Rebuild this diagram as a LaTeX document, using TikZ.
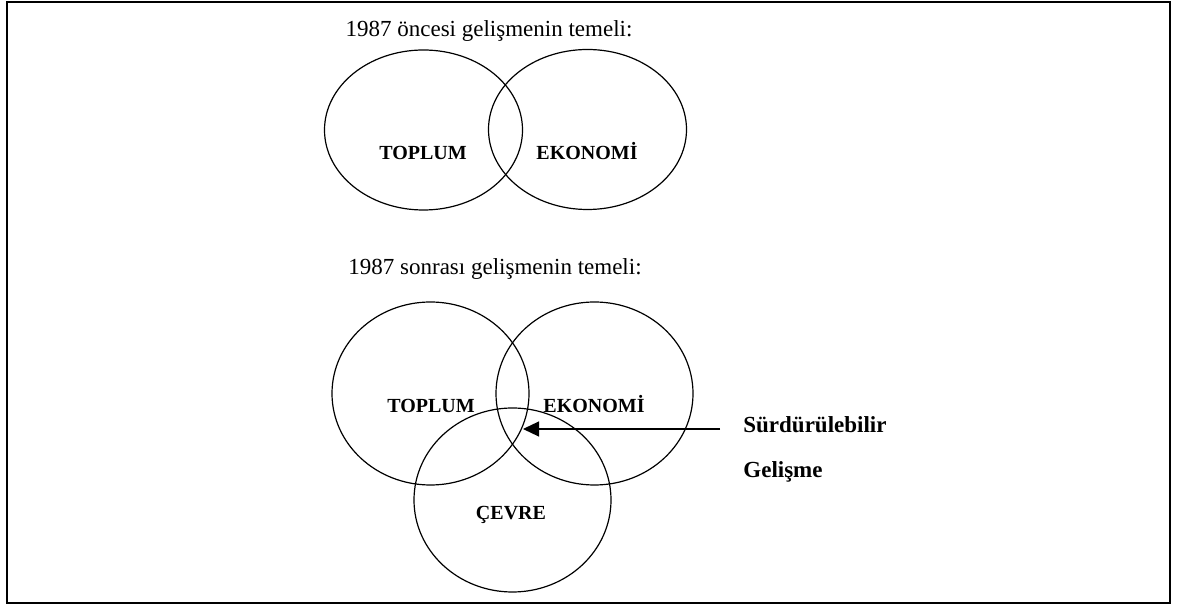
\documentclass[tikz,border=0pt]{standalone}
\usepackage{fontspec}
\setmainfont{Liberation Serif}
\usetikzlibrary{arrows.meta, shapes.geometric}

\begin{document}
\begin{tikzpicture}[x=0.5pt,y=-0.5pt]
    \tikzstyle{set}=[draw,ellipse,line width=0.6pt,inner sep=0pt,minimum width=99pt]
    \tikzstyle{setlabel}=[anchor=base,inner sep=0pt,font=\fontsize{10}{12}\selectfont\bfseries]
    \tikzstyle{title}=[anchor=base,inner sep=0pt,font=\fontsize{11.5}{14}\selectfont]
    \tikzstyle{note}=[anchor=base west,inner sep=0pt,font=\fontsize{11.5}{14}\selectfont\bfseries]
    \tikzstyle{edge} = [draw,line width=0.6pt,-{Triangle[length=8pt,width=7.5pt]}]

    \useasboundingbox (0, 0) rectangle (1178, 608);
    \draw[line width=1pt] (7, 2) rectangle (1170, 603);

    % before 1987
    \node[title] (before) at (489, 37) {1987 öncesi gelişmenin temeli:};
    \node[set,minimum height=80pt] (t1) at (423.5, 130) {};
    \node[set,minimum height=80pt] (e1) at (587.5, 129.5) {};
    \node[setlabel] (t1l) at (423, 160) {TOPLUM};
    \node[setlabel] (e1l) at (587, 160) {EKONOMİ};

    % after 1987
    \node[title] (after) at (495, 275) {1987 sonrası gelişmenin temeli:};
    \node[set,minimum width=98.5pt,minimum height=91.5pt] (t2) at (430.5, 393.5) {};
    \node[set,minimum width=98.5pt,minimum height=91.5pt] (e2) at (594.5, 393.5) {};
    \node[set,minimum width=98.5pt,minimum height=92pt] (c2) at (512.5, 500) {};
    \node[setlabel] (t2l) at (431, 413) {TOPLUM};
    \node[setlabel] (e2l) at (594, 413) {EKONOMİ};
    \node[setlabel] (c2l) at (511, 520) {ÇEVRE};

    \node[note] (surd) at (743, 433) {Sürdürülebilir};
    \node[note] (gel) at (743, 478) {Gelişme};
    \coordinate (core) at (523, 429);

    \path[edge] (surd.west |- core) ++(-23, 0) -- (core);
\end{tikzpicture}
\end{document}
